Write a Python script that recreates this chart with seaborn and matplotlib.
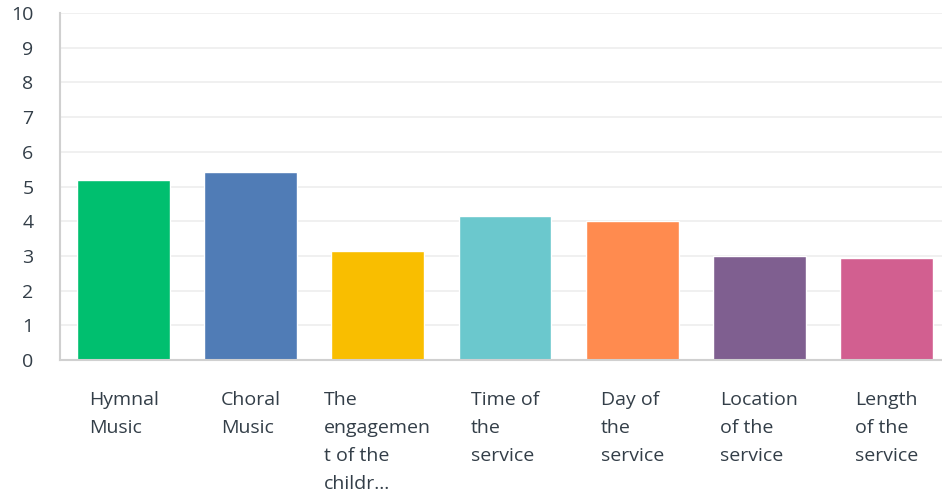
import matplotlib
matplotlib.use("Agg")
import matplotlib.pyplot as plt
import seaborn as sns
import pandas as pd

categories = ["Hymnal\nMusic", "Choral\nMusic", "The\nengagemen\nt of the\nchildr...",
              "Time of\nthe\nservice", "Day of\nthe\nservice", "Location\nof the\nservice",
              "Length\nof the\nservice"]
values = [5.18, 5.41, 3.13, 4.14, 4.02, 2.99, 2.93]
colors = ["#00BF6F", "#507CB6", "#F9BE00", "#6BC8CD", "#FF8B4F", "#7F5F90", "#D25F90"]

sns.set_theme(style="white")
plt.rcParams['font.family'] = ['Open Sans', 'DejaVu Sans']

df = pd.DataFrame({"cat": categories, "val": values})

fig = plt.figure(figsize=(9.42, 4.95), dpi=100)
ax = fig.add_axes([60/942, (495-360)/495, 890/942, (360-13)/495])
sns.barplot(data=df, x="cat", y="val", hue="cat", palette=colors, legend=False,
            width=0.73, saturation=1, ax=ax)
ax.set_xlim(-0.5, 6.5)
ax.set_ylim(0, 10)
ax.set_yticks(range(0, 11))
ax.set_xlabel("")
ax.set_ylabel("")
ax.grid(axis="y", color="#EDEDED", linewidth=1.2)
ax.set_axisbelow(True)
for s in ["top", "right"]:
    ax.spines[s].set_visible(False)
ax.spines["left"].set_color("#D0D0D0")
ax.spines["bottom"].set_color("#D0D0D0")
ax.spines["left"].set_linewidth(1.5)
ax.spines["bottom"].set_linewidth(1.5)
ax.tick_params(axis="y", length=0, pad=19, labelsize=14, labelcolor="#333E48")
ax.tick_params(axis="x", length=0, pad=22, labelsize=14, labelcolor="#333E48")
ax.set_xticks(range(len(categories)), labels=categories)
fig.canvas.draw()
for lab in ax.get_xticklabels():
    lab.set_multialignment("left")
    lab.set_linespacing(1.72)
    lab.set_verticalalignment("top")
fig.savefig("out.png", dpi=100)
